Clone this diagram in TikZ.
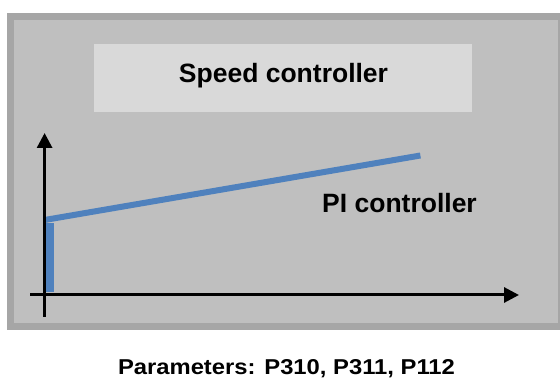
\documentclass[tikz,border=0pt]{standalone}
\usepackage{fontspec}
\setmainfont{Liberation Sans}
\usetikzlibrary{arrows.meta}
\definecolor{frameC}{HTML}{A6A6A6}
\definecolor{panelC}{HTML}{BFBFBF}
\definecolor{titleC}{HTML}{D9D9D9}
\definecolor{curveC}{HTML}{4F81BD}
\tikzset{
  axisline/.style={line width=3pt, black, -{Triangle[length=15pt,width=15pt]}},
  curveline/.style={line width=6pt, curveC},
  bigtext/.style={font=\fontsize{26.5}{30}\selectfont\bfseries, inner sep=0pt, anchor=base},
  captext/.style={font=\fontsize{21.5}{25}\selectfont\bfseries, inner sep=0pt, anchor=base}
}
\begin{document}
\begin{tikzpicture}[x=1pt,y=-1pt]
\useasboundingbox (0,0) rectangle (560,379);
\clip (0,0) rectangle (560,379);
\fill[white] (0,0) rectangle (560,379);
% frame
\draw[line width=7pt, draw=frameC, fill=panelC] (10.5,16.7) rectangle (561.5,326.5);
% title box
\fill[titleC] (94,44) rectangle (472,112);
\node[bigtext] (title) at (283.5,83) {Speed controller};
% curve
\coordinate (c0) at (50,292);
\coordinate (c1) at (50,220);
\coordinate (c2) at (44.6,220);
\coordinate (c3) at (420.4,155.5);
\draw[curveline, line width=8pt] (c0) -- ([yshift=-3pt]c1);
\draw[curveline] (c2) -- (c3);
% axes
\coordinate (yb) at (44.6,317);
\coordinate (yt) at (44.6,133);
\coordinate (xl) at (30.4,295);
\coordinate (xr) at (519,295);
\draw[axisline] (yb) -- (yt);
\draw[axisline] (xl) -- (xr);
\node[bigtext] (pi) at (399.5,213) {PI controller};
\node[captext] (params) at (286.5,374.5) {\scalebox{1.107}[1]{Parameters: P310, P311, P112}};
\end{tikzpicture}
\end{document}
